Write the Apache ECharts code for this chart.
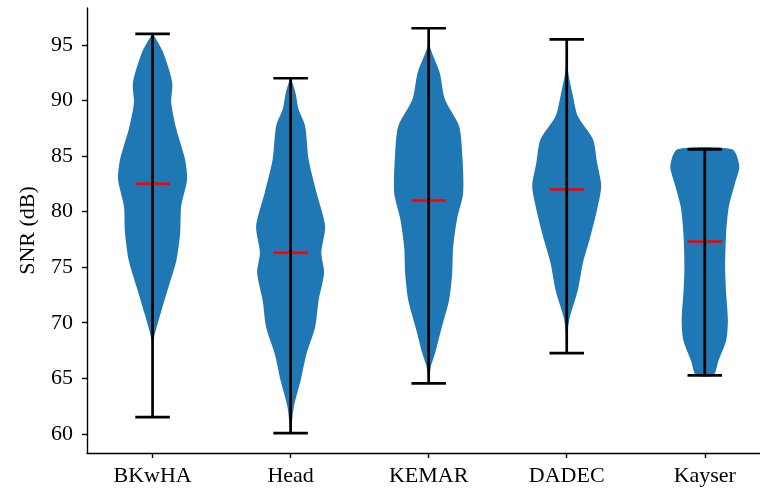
<!DOCTYPE html>
<html>
<head>
<meta charset="utf-8">
<script src="https://cdn.jsdelivr.net/npm/echarts@6/dist/echarts.min.js"></script>
<style>html,body{margin:0;padding:0;background:#fff}#c{width:760px;height:490px}</style>
</head>
<body>
<div id="c"></div>
<script>
const categories = ['BKwHA', 'Head', 'KEMAR', 'DADEC', 'Kayser'];
const yTicks = [60, 65, 70, 75, 80, 85, 90, 95];
const maxs = [96.0, 92.0, 96.5, 95.5, 85.6];
const mins = [61.5, 60.06, 64.55, 67.26, 65.27];
const medians = [82.5, 76.3, 81.0, 82.0, 77.3];

// density profiles (value level, relative density; max = 1)
const bkwhaLevels = [96.0, 94.3, 91.6, 89.8, 87.4, 84.7, 82.9, 80.5, 78.1, 75.6, 73.2, 70.8, 68.4, 65.0, 61.5];
const bkwhaDens   = [0.01, 0.31, 0.57, 0.54, 0.69, 0.94, 1.0, 0.83, 0.80, 0.69, 0.46, 0.23, 0.03, 0.015, 0.01];
const headLevels  = [92.0, 90.7, 89.2, 87.7, 84.7, 81.7, 78.7, 76.3, 74.5, 72.0, 69.6, 67.2, 64.8, 62.4, 60.3, 60.06];
const headDens    = [0.01, 0.14, 0.23, 0.42, 0.52, 0.75, 1.0, 0.89, 0.97, 0.81, 0.71, 0.46, 0.29, 0.09, 0.015, 0.01];
const kemarLevels = [96.5, 94.9, 92.5, 90.1, 87.7, 85.3, 81.7, 79.3, 76.8, 74.4, 72.0, 69.6, 67.2, 66.0, 64.55];
const kemarDens   = [0.01, 0.03, 0.32, 0.47, 0.88, 0.97, 1.0, 0.82, 0.71, 0.68, 0.59, 0.38, 0.18, 0.06, 0.01];
const dadecLevels = [95.5, 92.8, 90.4, 88.6, 86.5, 84.4, 82.3, 80.2, 77.7, 75.4, 72.9, 70.5, 69.3, 67.26];
const dadecDens   = [0.01, 0.03, 0.18, 0.32, 0.76, 0.88, 1.0, 0.88, 0.68, 0.47, 0.32, 0.09, 0.03, 0.01];
const kayserLevels = [85.6, 84.1, 82.6, 80.5, 78.1, 75.0, 72.6, 70.2, 68.4, 66.6, 65.27];
const kayserDens   = [0.79, 1.0, 0.88, 0.70, 0.62, 0.59, 0.62, 0.67, 0.62, 0.40, 0.25];

const profiles = [
  [bkwhaLevels, bkwhaDens],
  [headLevels, headDens],
  [kemarLevels, kemarDens],
  [dadecLevels, dadecDens],
  [kayserLevels, kayserDens]
];

const HALF = 0.25;   // max half width of a violin in x units
const CAP = 0.125;   // half width of caps / median line

const font = '"Liberation Serif", "DejaVu Serif", serif';

function renderViolin(params, api) {
  const i = api.value(0);
  const pos = i + 1;
  const [lv, dn] = profiles[i];
  const pts = [];
  for (let k = 0; k < lv.length; k++) pts.push(api.coord([pos - HALF * dn[k], lv[k]]));
  for (let k = lv.length - 1; k >= 0; k--) pts.push(api.coord([pos + HALF * dn[k], lv[k]]));
  const line = (a, b, color) => ({
    type: 'line',
    shape: { x1: a[0], y1: a[1], x2: b[0], y2: b[1] },
    style: { stroke: color, lineWidth: 2.7 }
  });
  return {
    type: 'group',
    children: [
      { type: 'polygon', shape: { points: pts, smooth: 0.25 }, style: { fill: '#1f77b4' } },
      line(api.coord([pos - CAP, medians[i]]), api.coord([pos + CAP, medians[i]]), '#ff0000'),
      line(api.coord([pos, mins[i]]), api.coord([pos, maxs[i]]), '#000'),
      line(api.coord([pos - CAP, maxs[i]]), api.coord([pos + CAP, maxs[i]]), '#000'),
      line(api.coord([pos - CAP, mins[i]]), api.coord([pos + CAP, mins[i]]), '#000')
    ]
  };
}

const chart = echarts.init(document.getElementById('c'), null, { renderer: 'canvas' });
chart.setOption({
  animation: false,
  backgroundColor: '#fff',
  grid: { left: 87, right: 0, top: 8, bottom: 37, containLabel: false },
  xAxis: {
    type: 'value', min: 0.525, max: 5.4,
    splitLine: { show: false },
    axisLine: { show: true, lineStyle: { color: '#000', width: 1.4 } },
    axisTick: { show: true, length: 5, lineStyle: { color: '#000', width: 1.4 }, customValues: [1, 2, 3, 4, 5] },
    axisLabel: {
      customValues: [1, 2, 3, 4, 5],
      formatter: v => categories[Math.round(v) - 1] || '',
      color: '#000', fontFamily: font, fontSize: 22, margin: 12
    }
  },
  yAxis: {
    type: 'value', min: 58.28, max: 98.32,
    name: 'SNR (dB)', nameLocation: 'middle', nameGap: 48, nameRotate: 90,
    nameTextStyle: { color: '#000', fontFamily: font, fontSize: 22 },
    splitLine: { show: false },
    axisLine: { show: true, lineStyle: { color: '#000', width: 1.4 } },
    axisTick: { show: true, length: 5, lineStyle: { color: '#000', width: 1.4 }, customValues: yTicks },
    axisLabel: { customValues: yTicks, color: '#000', fontFamily: font, fontSize: 22, margin: 14 }
  },
  series: [{
    type: 'custom',
    renderItem: renderViolin,
    data: categories.map((c, i) => [i]),
    encode: { x: 0 },
    clip: false
  }]
});
</script>
</body>
</html>
